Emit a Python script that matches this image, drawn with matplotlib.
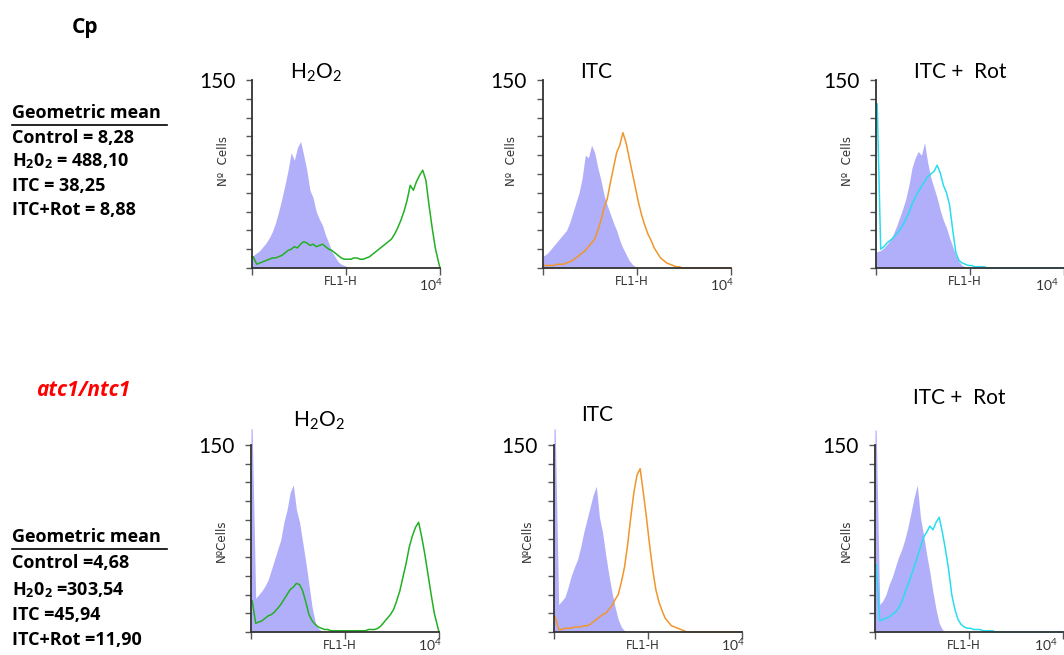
# Flow cytometry histograms (FL1-H), Cp and atc1/ntc1 strains
import numpy as np
import matplotlib.pyplot as plt
from matplotlib.lines import Line2D

plt.rcParams['font.family'] = ['Lato', 'DejaVu Sans']
plt.rcParams['mathtext.fontset'] = 'custom'
plt.rcParams['mathtext.rm'] = 'Lato'
plt.rcParams['mathtext.bf'] = 'Open Sans:bold'
plt.rcParams['mathtext.it'] = 'Lato:italic'

# 60 log channels between 10^0 and 10^4
edges = np.logspace(0, 4, 61)

# ---- Cp ----
cp_ctrl_h2o2 = [10, 12, 14, 17, 20, 24, 29, 36, 45, 55,
                66, 78, 92, 86, 96, 101, 90, 78, 62, 56,
                45, 39, 34, 26, 20, 13, 9, 5, 3, 2,
                1, 0, 0, 0, 0, 0, 0, 0, 0, 0,
                0, 0, 0, 0, 0, 0, 0, 0, 0, 0,
                0, 0, 0, 0, 0, 0, 0, 0, 0, 0]
cp_h2o2 = [9, 3, 4, 5, 6, 7, 8, 8, 9, 10,
           12, 14, 15, 17, 16, 19, 21, 20, 18, 19,
           17, 18, 19, 17, 15, 14, 12, 10, 8, 7,
           7, 7, 8, 8, 7, 7, 8, 9, 11, 13,
           15, 17, 19, 21, 23, 27, 32, 38, 45, 54,
           66, 62, 69, 74, 78, 70, 50, 32, 16, 5]
cp_ctrl_itc = [10, 12, 15, 18, 21, 24, 27, 30, 36, 44,
               52, 60, 72, 90, 88, 98, 92, 80, 70, 58,
               50, 43, 36, 30, 22, 16, 11, 6, 3, 1,
               0, 0, 0, 0, 0, 0, 0, 0, 0, 0,
               0, 0, 0, 0, 0, 0, 0, 0, 0, 0,
               0, 0, 0, 0, 0, 0, 0, 0, 0, 0]
cp_itc = [2, 2, 2, 2, 3, 3, 3, 4, 5, 6,
          8, 10, 12, 14, 17, 20, 23, 30, 38, 48,
          55, 68, 80, 92, 98, 108, 100, 88, 76, 64,
          52, 42, 34, 27, 22, 16, 12, 8, 6, 4,
          3, 2, 1, 1, 0, 0, 0, 0, 0, 0,
          0, 0, 0, 0, 0, 0, 0, 0, 0, 0]
cp_ctrl_rot = [13, 14, 16, 19, 22, 27, 33, 40, 47, 55,
               66, 80, 88, 93, 90, 100, 84, 72, 64, 56,
               46, 38, 32, 24, 17, 10, 5, 2, 1, 0,
               0, 0, 0, 0, 0, 0, 0, 0, 0, 0,
               0, 0, 0, 0, 0, 0, 0, 0, 0, 0,
               0, 0, 0, 0, 0, 0, 0, 0, 0, 0]
cp_rot = [131, 15, 17, 20, 22, 24, 27, 30, 34, 39,
          44, 51, 56, 61, 65, 69, 73, 75, 77, 82,
          76, 66, 60, 50, 30, 12, 6, 4, 3, 2,
          2, 1, 1, 1, 1, 0, 0, 0, 0, 0,
          0, 0, 0, 0, 0, 0, 0, 0, 0, 0,
          0, 0, 0, 0, 0, 0, 0, 0, 0, 0]

# ---- atc1/ntc1 ----
atc_ctrl_h2o2 = [163, 27, 30, 33, 37, 42, 50, 58, 66, 74,
                 88, 98, 112, 118, 98, 88, 72, 56, 38, 20,
                 8, 3, 1, 0, 0, 0, 0, 0, 0, 0,
                 0, 0, 0, 0, 0, 0, 0, 0, 0, 0,
                 0, 0, 0, 0, 0, 0, 0, 0, 0, 0,
                 0, 0, 0, 0, 0, 0, 0, 0, 0, 0]
atc_h2o2 = [25, 7, 8, 9, 11, 13, 14, 16, 19, 22,
            26, 30, 34, 36, 39, 38, 33, 24, 14, 9,
            6, 4, 3, 2, 2, 1, 1, 1, 1, 1,
            1, 1, 1, 1, 1, 1, 1, 2, 2, 2,
            3, 5, 8, 11, 14, 18, 25, 33, 44, 55,
            68, 77, 84, 88, 76, 62, 46, 30, 15, 5]
atc_ctrl_itc = [163, 22, 25, 28, 36, 45, 52, 58, 68, 80,
                90, 100, 110, 117, 92, 80, 62, 46, 32, 20,
                10, 4, 1, 0, 0, 0, 0, 0, 0, 0,
                0, 0, 0, 0, 0, 0, 0, 0, 0, 0,
                0, 0, 0, 0, 0, 0, 0, 0, 0, 0,
                0, 0, 0, 0, 0, 0, 0, 0, 0, 0]
atc_itc = [12, 2, 2, 3, 3, 3, 4, 4, 4, 5,
           5, 6, 8, 10, 12, 14, 15, 18, 21, 26,
           30, 40, 52, 70, 92, 112, 126, 131, 112, 92,
           70, 50, 34, 24, 17, 11, 8, 5, 4, 3,
           2, 1, 0, 0, 0, 0, 0, 0, 0, 0,
           0, 0, 0, 0, 0, 0, 0, 0, 0, 0]
atc_ctrl_rot = [162, 22, 25, 30, 38, 44, 52, 60, 66, 74,
                84, 96, 108, 118, 92, 78, 62, 48, 32, 18,
                7, 2, 0, 0, 0, 0, 0, 0, 0, 0,
                0, 0, 0, 0, 0, 0, 0, 0, 0, 0,
                0, 0, 0, 0, 0, 0, 0, 0, 0, 0,
                0, 0, 0, 0, 0, 0, 0, 0, 0, 0]
atc_rot = [54, 9, 10, 11, 12, 14, 16, 19, 24, 31,
           38, 45, 52, 60, 68, 76, 80, 85, 82, 88,
           92, 80, 66, 50, 30, 18, 10, 6, 4, 3,
           3, 2, 2, 2, 1, 1, 1, 1, 0, 0,
           0, 0, 0, 0, 0, 0, 0, 0, 0, 0,
           0, 0, 0, 0, 0, 0, 0, 0, 0, 0]

cp_means = ["Control = 8,28", "H$_\\mathbf{2}$0$_\\mathbf{2}$ = 488,10",
            "ITC = 38,25", "ITC+Rot = 8,88"]
atc_means = ["Control =4,68", "H$_\\mathbf{2}$0$_\\mathbf{2}$ =303,54",
             "ITC =45,94", "ITC+Rot =11,90"]

LAV = '#B2AFFA'
GREEN = '#22B022'
ORANGE = '#F0962A'
CYAN = '#2ADCF0'

W, H = 1064, 655
fig = plt.figure(figsize=(W / 100, H / 100), dpi=100)


def fx(x):
    return x / W


def fy(y):
    return 1 - y / H


def trace(counts):
    # first channel (off-scale events) as a narrow block, the rest through channel centres
    c = np.asarray(counts, float)
    mids = np.sqrt(edges[:-1] * edges[1:])
    xs = np.r_[edges[0], edges[0] * 1.06, mids[1:], edges[-1]]
    ys = np.r_[c[0], c[0], c[1:], 0]
    return xs, ys


def panel(left, bottom, top, ctrl, sample, color, title, tx, ty, ylab, ylx, yly, ex, ey):
    ax = fig.add_axes([fx(left), fy(bottom), 188 / W, (bottom - top) / H])
    xs, ys = trace(ctrl)
    ax.fill_between(xs, ys, color=LAV, lw=0, clip_on=False)
    xs, ys = trace(sample)
    ax.plot(xs, ys, color=color, lw=1.1, clip_on=False)
    ax.set_xscale('log')
    ax.set_xlim(1, 1e4)
    ax.set_ylim(0, 150)
    ax.set_yticks(range(0, 151, 15))
    ax.set_yticklabels([''] * 10 + ['150'], fontsize=15)
    ax.tick_params(axis='y', length=4, width=1, color='#555555', pad=8)
    ax.tick_params(axis='x', which='both', labelbottom=False, color='#555555')
    ax.tick_params(axis='x', which='major', length=5, width=1)
    ax.tick_params(axis='x', which='minor', length=4, width=1)
    for s in ['top', 'right']:
        ax.spines[s].set_visible(False)
    for s in ['left', 'bottom']:
        ax.spines[s].set_color('#333333')
        ax.spines[s].set_linewidth(1.3)
    ax.text(tx, ty, title, transform=ax.transAxes, fontsize=15, ha='center', va='center')
    ax.text(ylx, yly, ylab, transform=ax.transAxes, fontsize=8.5, rotation=90,
            ha='center', va='center', family='DejaVu Sans', color='#333333')
    ax.text(0.47, -0.072, 'FL1-H', transform=ax.transAxes, fontsize=8.5,
            ha='center', va='center', family='DejaVu Sans', color='#333333')
    ax.text(ex, ey, '$10^4$', transform=ax.transAxes, fontsize=10,
            ha='center', va='center', color='#333333')
    return ax


# top row (Cp)
panel(252, 268, 80, cp_ctrl_h2o2, cp_h2o2, GREEN, 'H$_2$O$_2$', 0.34, 1.04,
      'Nº  Cells', -0.15, 0.57, 0.95, -0.09)
panel(543, 268, 80, cp_ctrl_itc, cp_itc, ORANGE, 'ITC', 0.28, 1.04,
      'Nº  Cells', -0.17, 0.57, 0.95, -0.09)
panel(876, 268, 80, cp_ctrl_rot, cp_rot, CYAN, 'ITC +  Rot', 0.45, 1.04,
      'Nº  Cells', -0.15, 0.57, 0.91, -0.09)

# bottom row (atc1/ntc1)
panel(251, 632, 445, atc_ctrl_h2o2, atc_h2o2, GREEN, 'H$_2$O$_2$', 0.36, 1.13,
      'NºCells', -0.16, 0.49, 0.95, -0.072)
panel(554, 632, 445, atc_ctrl_itc, atc_itc, ORANGE, 'ITC', 0.23, 1.16,
      'NºCells', -0.14, 0.49, 0.95, -0.072)
panel(875, 632, 445, atc_ctrl_rot, atc_rot, CYAN, 'ITC +  Rot', 0.45, 1.25,
      'NºCells', -0.15, 0.49, 0.91, -0.072)

# left text blocks
fig.text(fx(85), fy(28), 'Cp', fontsize=15, fontweight='bold', ha='center', va='center',
         family='Open Sans')
fig.text(fx(83), fy(390), 'atc1/ntc1', fontsize=15, fontweight='bold', style='italic',
         color='#FF0000', ha='center', va='center', family='Open Sans')

for head_y, rows_y, lines in [(113, [138, 161, 186, 210], cp_means),
                              (537, [563, 590, 615, 640], atc_means)]:
    fig.text(fx(12), fy(head_y), 'Geometric mean', fontsize=13, fontweight='bold',
             ha='left', va='center', family='Open Sans')
    fig.add_artist(Line2D([fx(12), fx(167)], [fy(head_y + 12), fy(head_y + 12)],
                          color='black', lw=1.2))
    for y, s in zip(rows_y, lines):
        fig.text(fx(12), fy(y), s, fontsize=13, fontweight='bold', ha='left', va='center',
                 family='Open Sans')

plt.savefig('out.png', dpi=100)
